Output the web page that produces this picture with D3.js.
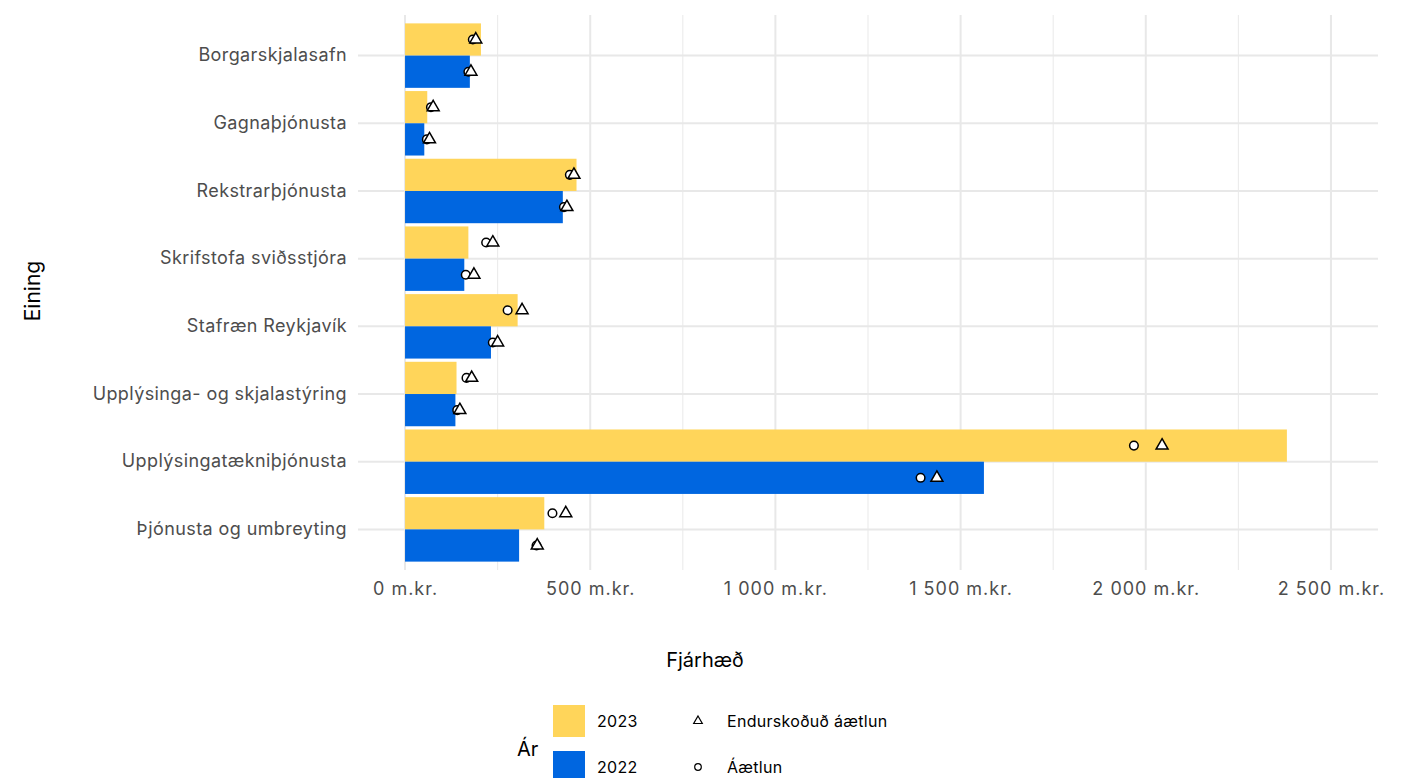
<!DOCTYPE html>
<html lang="is">
<head>
<meta charset="utf-8">
<script src="https://cdn.jsdelivr.net/npm/d3@7/dist/d3.min.js"></script>
<style>
  html, body { margin: 0; padding: 0; background: #fff; }
  svg text { font-family: Inter, "Noto Sans", sans-serif; }
</style>
</head>
<body>
<svg id="chart" width="1415" height="778"></svg>
<script>
// Units (Einingar)
const categories = [
  "Borgarskjalasafn",
  "Gagnaþjónusta",
  "Rekstrarþjónusta",
  "Skrifstofa sviðsstjóra",
  "Stafræn Reykjavík",
  "Upplýsinga- og skjalastýring",
  "Upplýsingatækniþjónusta",
  "Þjónusta og umbreyting"
];
// Actual amounts, m.kr.
const actual2023 = [205, 60, 463, 171, 304, 139, 2381, 376];
const actual2022 = [175, 52, 426, 160, 232, 136, 1563, 308];
// Budget (Áætlun), m.kr.
const budget2023 = [183, 70, 445, 219, 277, 166, 1968, 398];
const budget2022 = [171, 59, 429, 164, 237, 141, 1392, 355];
// Revised budget (Endurskoðuð áætlun), m.kr.
const revised2023 = [191, 76, 456, 237, 316, 180, 2044, 434];
const revised2022 = [178, 66, 437, 186, 250, 148, 1436, 357];

const years = ["2023", "2022"];
const yearColors = ["#FFD55A", "#0066E0"];
const xTicks = [0, 500, 1000, 1500, 2000, 2500];
const xMinorTicks = [250, 750, 1250, 1750, 2250];
const xDomain = [-127, 2627];

const svg = d3.select("#chart");
const panel = { left: 358, right: 1378, top: 15, bottom: 570 };

const x = d3.scaleLinear().domain(xDomain).range([panel.left, panel.right]);
const y = d3.scaleBand().domain(categories).range([panel.top, panel.bottom])
  .paddingInner(0).paddingOuter(0.1);
const sub = d3.scaleBand().domain(years).range([0, y.bandwidth()])
  .paddingOuter(0.05).paddingInner(0);

const locale = d3.formatLocale({ decimal: ",", thousands: "\u2009", grouping: [3], currency: ["", " kr."] });
const fmt = v => locale.format(",d")(v).replace("\u2009", " ") + " m.kr.";

// Grid
const grid = svg.append("g");
grid.selectAll("line.minor").data(xMinorTicks).join("line")
  .attr("x1", d => x(d)).attr("x2", d => x(d))
  .attr("y1", panel.top).attr("y2", panel.bottom)
  .attr("stroke", "#ebebeb").attr("stroke-width", 1.1);
grid.selectAll("line.major").data(xTicks).join("line")
  .attr("x1", d => x(d)).attr("x2", d => x(d))
  .attr("y1", panel.top).attr("y2", panel.bottom)
  .attr("stroke", "#e8e8e8").attr("stroke-width", 2);
grid.selectAll("line.h").data(categories).join("line")
  .attr("x1", panel.left).attr("x2", panel.right)
  .attr("y1", d => y(d) + y.bandwidth() / 2).attr("y2", d => y(d) + y.bandwidth() / 2)
  .attr("stroke", "#e8e8e8").attr("stroke-width", 2);

// Bars
const rows = categories.map((c, i) => ({
  cat: c,
  vals: [
    { year: "2023", actual: actual2023[i], budget: budget2023[i], revised: revised2023[i] },
    { year: "2022", actual: actual2022[i], budget: budget2022[i], revised: revised2022[i] }
  ]
}));

const groups = svg.append("g").selectAll("g").data(rows).join("g")
  .attr("transform", d => `translate(0,${y(d.cat)})`);

groups.selectAll("rect").data(d => d.vals).join("rect")
  .attr("x", x(0))
  .attr("y", d => sub(d.year))
  .attr("width", d => x(d.actual) - x(0))
  .attr("height", sub.bandwidth())
  .attr("fill", (d, i) => yearColors[i]);

// Budget markers (circles) then revised budget markers (triangles)
groups.selectAll("circle").data(d => d.vals).join("circle")
  .attr("cx", d => x(d.budget))
  .attr("cy", d => sub(d.year) + sub.bandwidth() / 2)
  .attr("r", 4.3)
  .attr("fill", "#fff").attr("stroke", "#000").attr("stroke-width", 1.5);

const tri = d3.symbol().type(d3.symbolTriangle).size(62);
groups.selectAll("path.tri").data(d => d.vals).join("path")
  .attr("class", "tri")
  .attr("d", tri)
  .attr("transform", d => `translate(${x(d.revised)},${sub(d.year) + sub.bandwidth() / 2})`)
  .attr("fill", "#fff").attr("stroke", "#000").attr("stroke-width", 1.5)
  .attr("stroke-linejoin", "miter");

// Axes
const xAxis = d3.axisBottom(x).tickValues(xTicks).tickFormat(fmt).tickSize(0).tickPadding(0);
const gx = svg.append("g").attr("transform", `translate(0,${panel.bottom + 12})`).call(xAxis);
gx.select(".domain").remove();
gx.selectAll("text").attr("fill", "#4d4d4d").attr("font-size", 18)
  .attr("letter-spacing", 1).attr("dy", "0.71em");

const yAxis = d3.axisLeft(y).tickSize(0).tickPadding(0);
const gy = svg.append("g").attr("transform", `translate(${panel.left - 11},0)`).call(yAxis);
gy.select(".domain").remove();
gy.selectAll("text").attr("fill", "#4d4d4d").attr("font-size", 18).attr("letter-spacing", 0.4);

// Axis titles
svg.append("text").attr("x", 705).attr("y", 667).attr("text-anchor", "middle")
  .attr("font-size", 20).attr("fill", "#000").text("Fjárhæð");
svg.append("text").attr("transform", "translate(40,291) rotate(-90)").attr("text-anchor", "middle")
  .attr("font-size", 21).attr("fill", "#000").text("Eining");

// Legend: year
const leg = svg.append("g");
leg.append("text").attr("x", 517).attr("y", 756).attr("font-size", 20).attr("fill", "#000").text("Ár");
const legRows = years.map((yr, i) => ({ yr, col: yearColors[i], i }));
leg.selectAll("rect").data(legRows).join("rect")
  .attr("x", 553).attr("y", d => 705 + d.i * 46)
  .attr("width", 32).attr("height", 32).attr("fill", d => d.col);
leg.selectAll("text.yr").data(legRows).join("text").attr("class", "yr")
  .attr("x", 597).attr("y", d => 721 + d.i * 46).attr("dy", "0.35em")
  .attr("font-size", 16).attr("letter-spacing", 0.3).attr("fill", "#000").text(d => d.yr);

// Legend: markers
const markerLegend = [
  { label: "Endurskoðuð áætlun", shape: "tri" },
  { label: "Áætlun", shape: "circ" }
];
const ml = leg.selectAll("g.m").data(markerLegend).join("g").attr("class", "m")
  .attr("transform", (d, i) => `translate(698,${721 + i * 46})`);
ml.filter(d => d.shape === "tri").append("path")
  .attr("d", d3.symbol().type(d3.symbolTriangle).size(32))
  .attr("fill", "#fff").attr("stroke", "#000").attr("stroke-width", 1.2);
ml.filter(d => d.shape === "circ").append("circle")
  .attr("r", 3.3).attr("fill", "#fff").attr("stroke", "#000").attr("stroke-width", 1.2);
ml.append("text").attr("x", 29).attr("dy", "0.35em").attr("font-size", 16)
  .attr("letter-spacing", 0.3).attr("fill", "#000")
  .text(d => d.label);
</script>
</body>
</html>
